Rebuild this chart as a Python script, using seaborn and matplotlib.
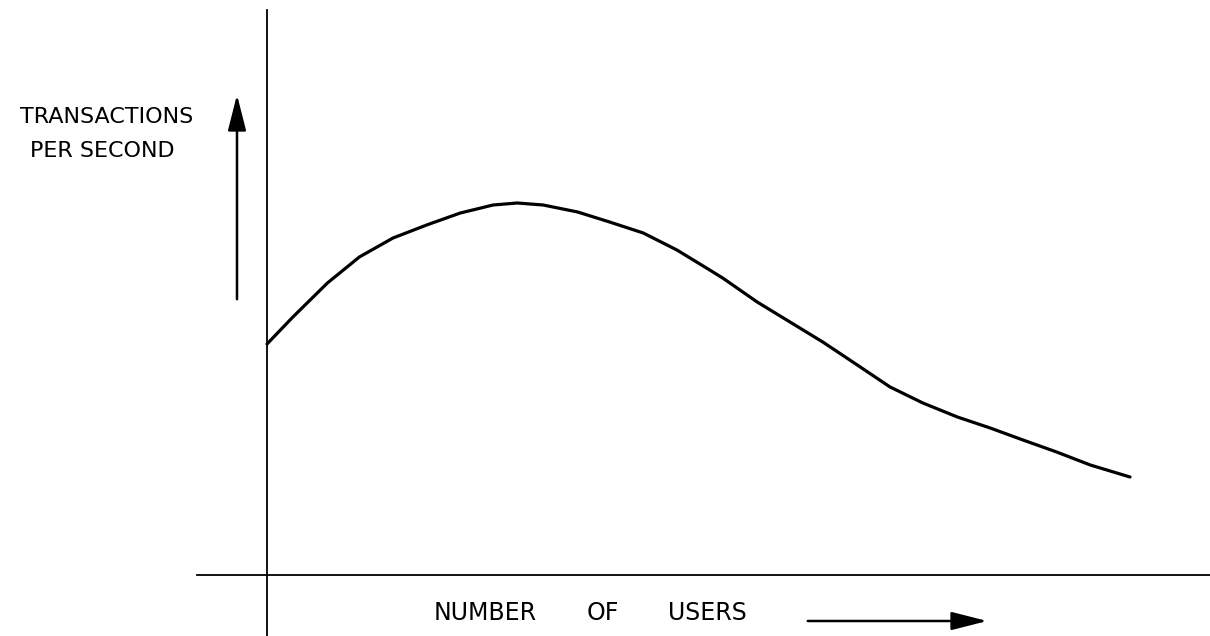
import numpy as np
import pandas as pd
import seaborn as sns
import matplotlib.pyplot as plt

# hand-drawn throughput sketch: transactions per second vs number of users
users = [0, 3, 7, 10.7, 14.6, 18.5, 22.4, 26.2, 29, 32, 36, 39.7, 43.6, 47.5,
         51.3, 52.8, 56.8, 60.6, 64.4, 68.4, 72.2, 76, 80, 83.8, 87.6, 91.5, 95.4, 100]
tps = [46.2, 51.6, 58.4, 63.6, 67.4, 70.0, 72.4, 74.0, 74.4, 74.0, 72.6, 70.6, 68.4, 65.0,
       61.0, 59.4, 54.6, 50.6, 46.6, 42.0, 37.6, 34.4, 31.6, 29.4, 27.0, 24.6, 22.0, 19.6]

x_label_words = ["NUMBER", "OF", "USERS"]
y_label_lines = ["TRANSACTIONS", "PER SECOND"]

sns.set_style("white")
plt.rcParams['font.family'] = ['DejaVu Sans']
plt.rcParams['text.color'] = 'black'

fig = plt.figure(figsize=(12.1, 6.36), dpi=100)
ax = fig.add_axes([0, 0, 1, 1])

df = pd.DataFrame({"users": users, "tps": tps})
sns.lineplot(data=df, x="users", y="tps", ax=ax, color="black", lw=2.3, sort=False,
             solid_joinstyle="round", solid_capstyle="round")

ax.set_xlim(-30.94, 109.27)
ax.set_ylim(-12.2, 115)

# axes cross at the origin, drawn like pencil strokes
for side in ["top", "right"]:
    ax.spines[side].set_visible(False)
ax.spines["left"].set_position(("data", 0))
ax.spines["bottom"].set_position(("data", 0))
ax.spines["left"].set_bounds(-12.2, 113)
ax.spines["bottom"].set_bounds(-8.1, 109.27)
for side in ["left", "bottom"]:
    ax.spines[side].set_linewidth(1.3)
    ax.spines[side].set_color("black")
ax.set_xticks([])
ax.set_yticks([])
ax.set_xlabel("")
ax.set_ylabel("")
ax.patch.set_alpha(0)

# y label and arrow
fig.text(107 / 1210, 1 - 117 / 636, y_label_lines[0], ha="center", va="center",
         fontsize=16, color="black")
fig.text(102 / 1210, 1 - 151 / 636, y_label_lines[1], ha="center", va="center",
         fontsize=16, color="black")
ax.annotate("", xy=(237, 636 - 92), xytext=(237, 636 - 302), xycoords="figure pixels",
            textcoords="figure pixels",
            arrowprops=dict(arrowstyle="-|>,head_length=1.1,head_width=0.28",
                            lw=1.8, color="black", mutation_scale=20))

# x label and arrow
for word, cx in zip(x_label_words, [485, 603, 707]):
    fig.text(cx / 1210, 1 - 613 / 636, word, ha="center", va="center",
             fontsize=17, color="black")
ax.annotate("", xy=(990, 636 - 621), xytext=(805, 636 - 621), xycoords="figure pixels",
            textcoords="figure pixels",
            arrowprops=dict(arrowstyle="-|>,head_length=1.1,head_width=0.28",
                            lw=1.8, color="black", mutation_scale=20))

fig.savefig("out.png", dpi=100)
